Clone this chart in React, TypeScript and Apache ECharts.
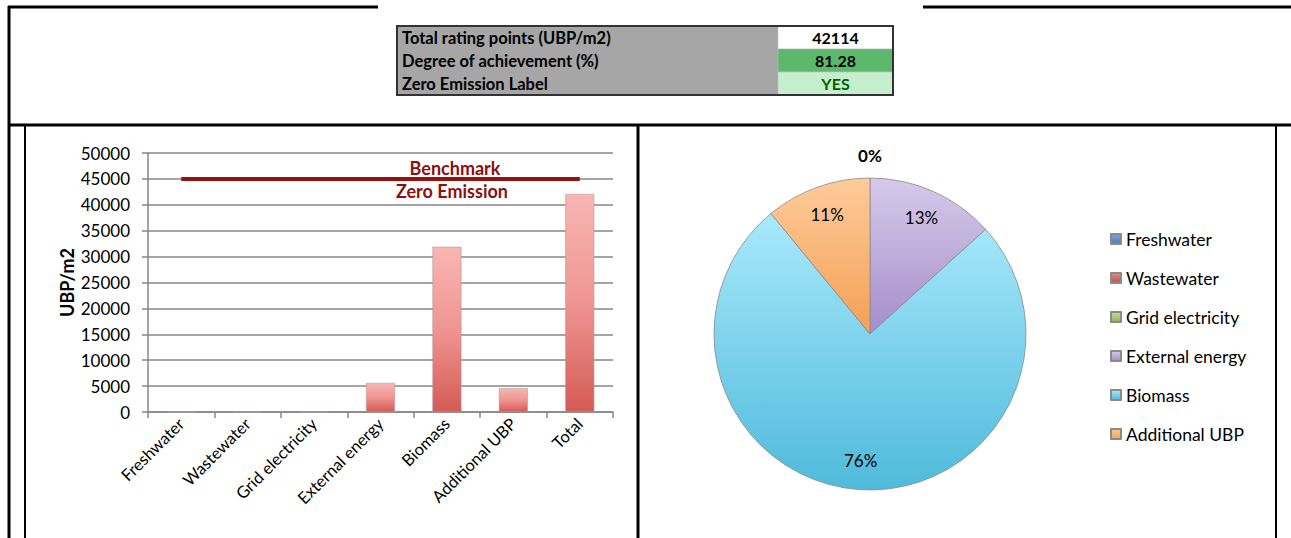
import React, { useEffect, useRef } from "react";
import * as echarts from "echarts";

// ---- data ----
const categories = [
  "Freshwater",
  "Wastewater",
  "Grid electricity",
  "External energy",
  "Biomass",
  "Additional UBP",
  "Total",
];
const barValues = [0, 0, 0, 5600, 31900, 4614, 42114];
const benchmarkValues = [45000, 45000, 45000, 45000, 45000, 45000, 45000];
const benchmarkLabels = ["Benchmark", "Zero Emission"];
const yMin = 0;
const yMax = 50000;
const yInterval = 5000;
const yAxisTitle = "UBP/m2";

const pieNames = [
  "Freshwater",
  "Wastewater",
  "Grid electricity",
  "External energy",
  "Biomass",
  "Additional UBP",
];
const pieValues = [0, 0, 0, 5600, 31900, 4614];

const tableLabels = [
  "Total rating points (UBP/m2)",
  "Degree of achievement (%)",
  "Zero Emission Label",
];
const tableValues = ["42114", "81.28", "YES"];

// ---- styles ----
const FONT = "Lato";
const grad = (top: string, bottom: string) =>
  new echarts.graphic.LinearGradient(0, 0, 0, 1, [
    { offset: 0, color: top },
    { offset: 1, color: bottom },
  ]);
const pieColors = [
  grad("#7ea6dc", "#4a7ab8"),
  grad("#e48a88", "#c0504d"),
  grad("#c2dc8e", "#94b454"),
  grad("#d6caea", "#a58dca"),
  grad("#a9e9fb", "#4fbadb"),
  grad("#fdcb9a", "#f5a055"),
];
const tableValueFills = ["#ffffff", "#5cb86a", "#c6efce"];
const tableValueText = ["#000000", "#000000", "#006100"];

export default function App() {
  const ref = useRef<HTMLDivElement>(null);

  useEffect(() => {
    if (!ref.current) return;
    const chart = echarts.init(ref.current, undefined, { renderer: "svg" });

    const line = (x1: number, y1: number, x2: number, y2: number, w: number) => ({
      type: "line",
      shape: { x1, y1, x2, y2 },
      style: { stroke: "#000", lineWidth: w },
      z: 100,
      silent: true,
    });

    const tableTop = 26;
    const rowH = 23;
    const tableLeft = 397;
    const splitX = 778;
    const tableRight = 893;
    const tableGraphics: any[] = [];
    tableLabels.forEach((lab, i) => {
      const y = tableTop + i * rowH;
      tableGraphics.push({
        type: "rect",
        shape: { x: tableLeft, y, width: splitX - tableLeft, height: rowH },
        style: { fill: "#a6a6a6" },
        silent: true,
      });
      tableGraphics.push({
        type: "rect",
        shape: { x: splitX, y, width: tableRight - splitX, height: rowH },
        style: { fill: tableValueFills[i], stroke: "#bdbdbd", lineWidth: 0.5 },
        silent: true,
      });
      tableGraphics.push({
        type: "text",
        style: {
          text: lab,
          x: tableLeft + 5,
          y: y + rowH / 2,
          verticalAlign: "middle",
          align: "left",
          fontFamily: FONT,
          fontWeight: "bold",
          fontSize: 16.5,
          fill: "#000",
        },
        silent: true,
      });
      tableGraphics.push({
        type: "text",
        style: {
          text: tableValues[i],
          x: (splitX + tableRight) / 2,
          y: y + rowH / 2,
          verticalAlign: "middle",
          align: "center",
          fontFamily: FONT,
          fontWeight: "bold",
          fontSize: 16,
          fill: tableValueText[i],
        },
        silent: true,
      });
    });
    tableGraphics.push({
      type: "rect",
      shape: { x: tableLeft, y: tableTop, width: tableRight - tableLeft, height: rowH * 3 },
      style: { fill: "none", stroke: "#333", lineWidth: 2 },
      silent: true,
    });

    const option: any = {
      animation: false,
      textStyle: { fontFamily: FONT },
      grid: { left: 148, top: 153, width: 465, height: 259, containLabel: false },
      xAxis: {
        type: "category",
        data: categories,
        boundaryGap: true,
        axisLine: { show: true, lineStyle: { color: "#878787", width: 1.5 } },
        axisTick: { show: true, length: 6, lineStyle: { color: "#878787", width: 1.5 } },
        axisLabel: { rotate: 45, fontSize: 16.5, color: "#000", margin: 9, interval: 0, fontFamily: FONT },
      },
      yAxis: {
        type: "value",
        min: yMin,
        max: yMax,
        interval: yInterval,
        name: yAxisTitle,
        nameLocation: "middle",
        nameRotate: 90,
        nameGap: 72,
        nameTextStyle: { fontWeight: "bold", fontSize: 18, color: "#000", fontFamily: FONT },
        axisLine: { show: true, lineStyle: { color: "#878787", width: 1.5 } },
        axisTick: { show: true, length: 6, lineStyle: { color: "#878787", width: 1.5 } },
        splitLine: { show: true, lineStyle: { color: "#878787", width: 1.5 } },
        axisLabel: {
          fontSize: 17,
          color: "#000",
          margin: 18,
          fontFamily: FONT,
          formatter: (v: number) => String(v),
        },
      },
      legend: {
        orient: "vertical",
        left: 1110,
        top: 230,
        padding: 0,
        data: pieNames,
        icon: "rect",
        itemWidth: 10,
        itemHeight: 10,
        itemGap: 21,
        selectedMode: false,
        textStyle: { fontSize: 17.5, color: "#000", fontFamily: FONT },
      },
      series: [
        {
          type: "bar",
          data: barValues,
          barWidth: 29,
          itemStyle: {
            color: new echarts.graphic.LinearGradient(0, 0, 0, 1, [
              { offset: 0, color: "#f8b6b3" },
              { offset: 0.5, color: "#ef9591" },
              { offset: 1, color: "#d55a55" },
            ]),
            borderColor: "#b79a9a",
            borderWidth: 0.6,
          },
          silent: true,
        },
        {
          type: "line",
          data: benchmarkValues,
          symbol: "none",
          lineStyle: { color: "#961010", width: 4 },
          z: 5,
          silent: true,
        },
        {
          type: "pie",
          center: [870, 334],
          radius: 156,
          startAngle: 90,
          clockwise: true,
          silent: true,
          label: { show: false },
          labelLine: { show: false },
          itemStyle: { borderColor: "#8a8a8a", borderWidth: 0.8 },
          data: pieNames.map((n, i) => ({ name: n, value: pieValues[i], itemStyle: { color: pieColors[i] } })),
        },
        {
          type: "pie",
          center: [870, 334],
          radius: [0, 248],
          startAngle: 90,
          silent: true,
          percentPrecision: 0,
          itemStyle: { color: "rgba(0,0,0,0)", borderWidth: 0 },
          labelLine: { show: false },
          label: {
            show: true,
            position: "inside",
            formatter: "{d}%",
            fontSize: 17,
            color: "#000",
            fontFamily: FONT,
          },
          data: pieNames.map((n, i) => ({
            name: n,
            value: pieValues[i],
            label: { show: pieValues[i] > 0 },
          })),
          z: 10,
        },
        {
          type: "pie",
          center: [870, 334],
          radius: [0, 352],
          startAngle: 90,
          silent: true,
          percentPrecision: 0,
          itemStyle: { color: "rgba(0,0,0,0)", borderWidth: 0 },
          labelLine: { show: false },
          label: {
            show: true,
            position: "inside",
            formatter: "{d}%",
            fontSize: 17,
            fontWeight: "bold",
            color: "#000",
            fontFamily: FONT,
          },
          data: pieNames.map((n, i) => ({
            name: n,
            value: pieValues[i],
            label: { show: i === 0 },
          })),
          z: 10,
        },
      ],
      graphic: [
        ...tableGraphics,
        line(8, 7, 378, 7, 3),
        line(923, 7, 1291, 7, 3),
        line(9, 6, 9, 538, 3),
        line(8, 125, 1291, 125, 3),
        line(25, 125, 25, 538, 2),
        line(638, 125, 638, 538, 3),
        line(1276, 125, 1276, 538, 2),
        {
          type: "text",
          silent: true,
          z: 50,
          style: {
            text: benchmarkLabels[0],
            x: 455,
            y: 168,
            align: "center",
            verticalAlign: "middle",
            fontFamily: FONT,
            fontWeight: "bold",
            fontSize: 18,
            fill: "#8b1010",
          },
        },
        {
          type: "text",
          silent: true,
          z: 50,
          style: {
            text: benchmarkLabels[1],
            x: 452,
            y: 191,
            align: "center",
            verticalAlign: "middle",
            fontFamily: FONT,
            fontWeight: "bold",
            fontSize: 18,
            fill: "#8b1010",
          },
        },
      ],
    };

    chart.setOption(option);
    return () => chart.dispose();
  }, []);

  return (
    <div
      ref={ref}
      style={{ position: "fixed", left: 0, top: 0, width: 1291, height: 538, background: "#fff" }}
    />
  );
}
